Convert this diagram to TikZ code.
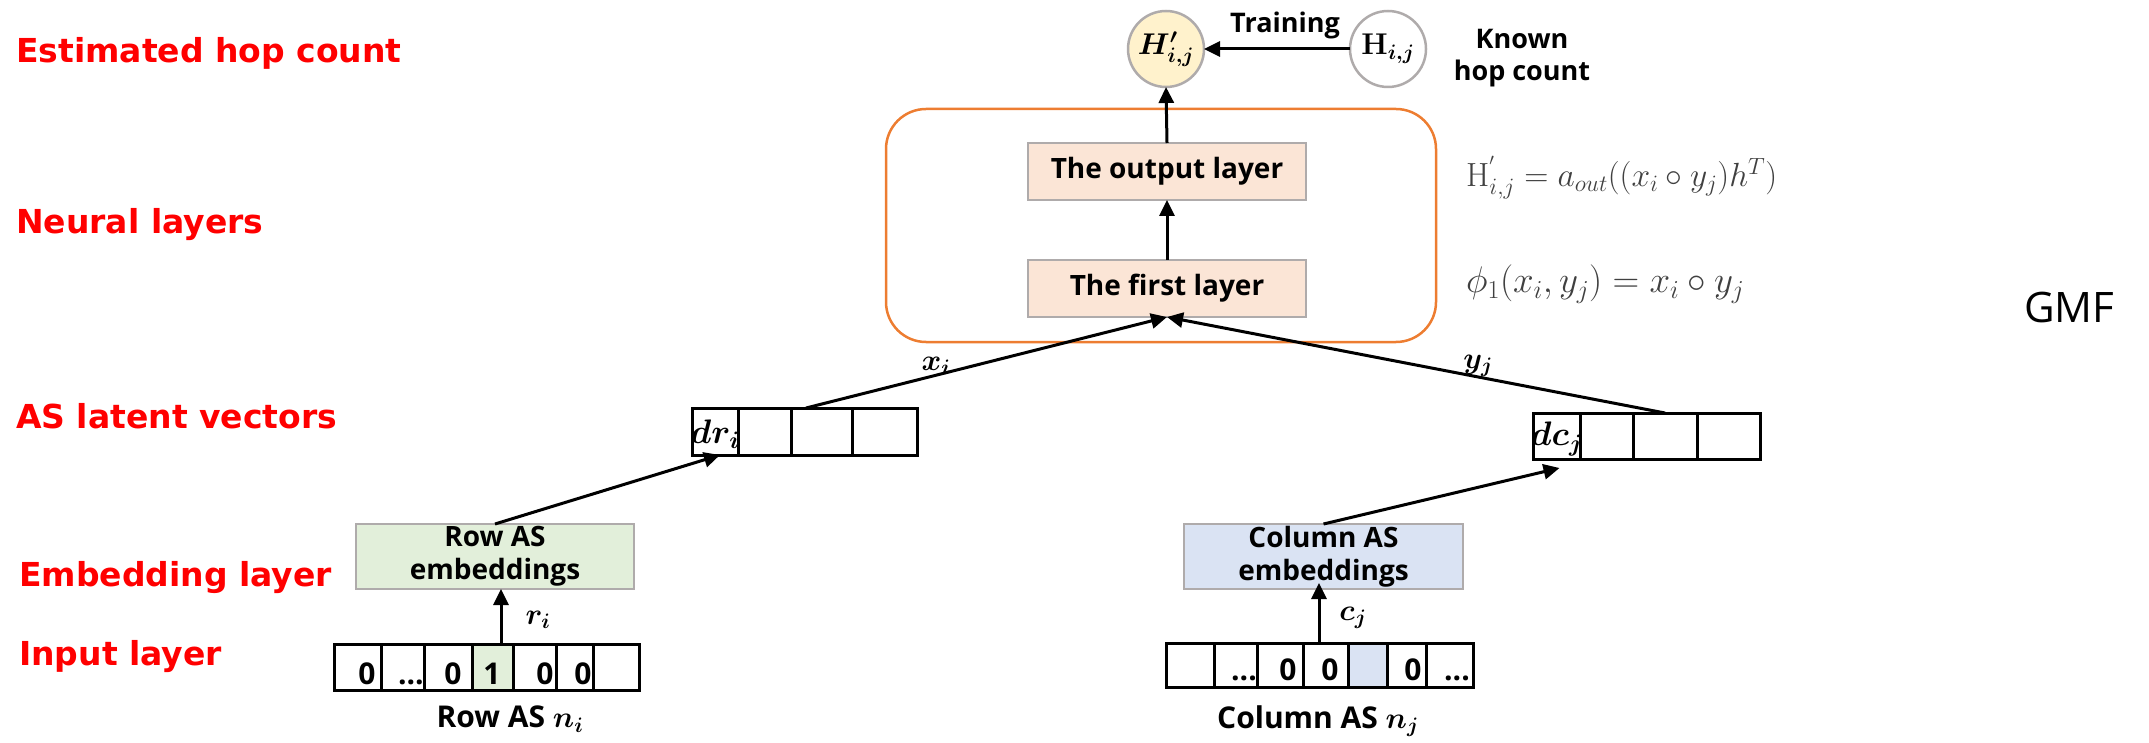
\RequirePackage{fix-cm}
\documentclass[tikz,border=0pt]{standalone}
\usepackage{amsmath}
\usepackage{bm}
\usepackage[no-math]{fontspec}
\setmainfont{Open Sans}
\newfontfamily\redfont{DejaVu Sans}
\usetikzlibrary{arrows.meta}

\definecolor{hdred}{HTML}{FF0000}
\definecolor{frameorange}{HTML}{ED7D31}
\definecolor{peach}{HTML}{FBE5D6}
\definecolor{rowgreen}{HTML}{E2EFDA}
\definecolor{colblue}{HTML}{DAE3F3}
\definecolor{predyellow}{HTML}{FFF2CC}
\definecolor{boxgray}{HTML}{AFABAB}
\definecolor{formulagray}{HTML}{404040}

\begin{document}
\begin{tikzpicture}[x=1pt,y=-1pt,
  redlbl/.style={anchor=west, text=hdred, inner sep=0pt,
    font=\redfont\bfseries\fontsize{33}{39}\selectfont},
  layerbox/.style={draw=boxgray, line width=2.5pt, fill=peach,
    minimum width=278pt, minimum height=57pt, inner sep=0pt, outer sep=0pt,
    font=\bfseries\fontsize{28}{33}\selectfont},
  embbox/.style={draw=boxgray, line width=2.5pt, minimum height=65pt,
    inner sep=0pt, outer sep=0pt, align=center,
    font=\bfseries\fontsize{28}{33}\selectfont},
  cell/.style={draw=black, line width=3pt, inner sep=0pt, outer sep=0pt,
    anchor=north west},
  digit/.style={anchor=base, inner sep=0pt,
    font=\bfseries\fontsize{30}{33}\selectfont},
  hopnode/.style={circle, draw=boxgray, line width=2.5pt, minimum size=76pt,
    inner sep=0pt, outer sep=0pt, font=\fontsize{30}{34}\selectfont},
  arr/.style={line width=3pt, -{Triangle[length=16pt,width=15pt]}},
  mathlbl/.style={inner sep=0pt, font=\fontsize{30}{34}\selectfont},
  blacklbl/.style={inner sep=0pt, align=center,
    font=\bfseries\fontsize{27}{32}\selectfont},
]
\useasboundingbox (0,0) rectangle (2149,743);

% level captions on the left
\node[redlbl] (capest) at (16,53)  {Estimated hop count};
\node[redlbl] (capneu) at (16,225) {Neural layers};
\node[redlbl] (caplat) at (16,416) {AS latent vectors};
\node[redlbl] (capemb) at (19,578) {Embedding layer};
\node[redlbl] (capin)  at (19,657) {Input layer};

% neural layers frame and its two layers
\node[draw=frameorange, line width=2.5pt, rounded corners=40pt,
      minimum width=550pt, minimum height=233pt, inner sep=0pt] (neural) at (1161,225.5) {};
\node[layerbox] (outl)   at (1167,171.5) {The output layer};
\node[layerbox] (firstl) at (1167,288.5) {The first layer};

% estimated and known hop counts
\node[hopnode, fill=predyellow] (Hp) at (1166,49) {$\bm{H'_{i,j}}$};
\node[hopnode, fill=white]      (H)  at (1388,49) {$\mathbf{H}_{\bm{i,j}}$};
\node[blacklbl] (train) at (1285,25) {Training};
\node[blacklbl] (known) at (1522,58) {Known\\hop count};

% formulas
\node[anchor=west, inner sep=0pt, text=formulagray, font=\fontsize{33.5}{38}\selectfont] (eqout) at (1466,178)
  {$\mathrm{H}^{'}_{i,j}=a_{out}((x_i\circ y_j)h^{T})$};
\node[anchor=west, inner sep=0pt, text=formulagray, font=\fontsize{37}{42}\selectfont] (eqfirst) at (1466,284)
  {$\phi_1(x_i,y_j)=x_i\circ y_j$};
\node[anchor=west, inner sep=0pt, font=\fontsize{42}{48}\selectfont] (gmf) at (2024,307) {GMF};

% latent vectors
\foreach \a/\b [count=\k] in {692/738,738/791,791/852,852/917}
  \node[cell, minimum width={(\b-\a)*1pt}, minimum height=47pt] (latL\k) at (\a,408) {};
\foreach \a/\b [count=\k] in {1533/1580,1580/1633,1633/1697,1697/1760}
  \node[cell, minimum width={(\b-\a)*1pt}, minimum height=46pt] (latR\k) at (\a,413) {};
\node[mathlbl, font=\fontsize{34}{36}\selectfont] (dri) at ([yshift=-3pt]latL1.center) {$\bm{dr_i}$};
\node[mathlbl, font=\fontsize{34}{36}\selectfont] (dcj) at ([yshift=-3pt]latR1.center) {$\bm{dc_j}$};

% embedding tables
\node[embbox, fill=rowgreen, minimum width=278pt] (rowemb) at (495,556.5) {Row AS\\embeddings};
\node[embbox, fill=colblue,  minimum width=279pt] (colemb) at (1323.5,556.5) {Column AS\\embeddings};

% one-hot inputs
\foreach \a/\b/\c [count=\k] in {334/381/white,381/424/white,424/472/white,472/513/rowgreen,513/556/white,556/593/white,593/639/white}
  \node[cell, fill=\c, minimum width={(\b-\a)*1pt}, minimum height=46pt] (inL\k) at (\a,644) {};
\foreach \a/\b/\c [count=\k] in {1166/1214/white,1214/1257/white,1257/1303/white,1303/1348/white,1348/1387/colblue,1387/1426/white,1426/1473/white}
  \node[cell, fill=\c, minimum width={(\b-\a)*1pt}, minimum height=44pt] (inR\k) at (\a,643) {};

\node[digit] (l1) at (367,684) {0};
\node[digit, anchor=base east] (l2) at (424,684) {...};
\node[digit] (l3) at (453,684) {0};
\node[digit] (l4) at (492,684) {1};
\node[digit] (l5) at (545,684) {0};
\node[digit] (l6) at (583,684) {0};

\node[digit, anchor=base east] (r2) at (1257,680) {...};
\node[digit] (r3) at (1288,680) {0};
\node[digit] (r4) at (1330,680) {0};
\node[digit] (r6) at (1413,680) {0};
\node[digit, anchor=base east] (r7) at (1470,680) {...};

\node[blacklbl, font=\bfseries\fontsize{30}{34}\selectfont] (rowname) at (510,719) {Row AS $\bm{n_i}$};
\node[blacklbl, font=\bfseries\fontsize{30}{34}\selectfont] (colname) at (1318,721) {Column AS $\bm{n_j}$};

% connectors
\draw[arr] ([xshift=8.5pt]inL4.north) -- ([xshift=6pt]rowemb.south);
\draw[arr] ([xshift=-6.5pt]inR4.north) -- ([xshift=-4.5pt,yshift=6pt]colemb.south);
\node[mathlbl] (ri) at (538,620) {$\bm{r_i}$};
\node[mathlbl] (cj) at (1353,618) {$\bm{c_j}$};

\draw[arr] (rowemb.north) -- ([xshift=5pt]latL1.south);
\draw[arr] (colemb.north) -- ([xshift=3pt,yshift=-9pt]latR1.south);

\draw[arr] ([xshift=15pt]latL3.north west) -- (firstl.south);
\draw[arr] (latR3.north) -- (firstl.south);
\node[mathlbl] (xi) at (936,366) {$\bm{x_i}$};
\node[mathlbl] (yj) at (1478,366) {$\bm{y_j}$};

\draw[arr] (firstl.north) -- (outl.south);
\draw[arr] (outl.north) -- (Hp.south);
\draw[arr] (H.west) -- (Hp.east);
\end{tikzpicture}
\end{document}
